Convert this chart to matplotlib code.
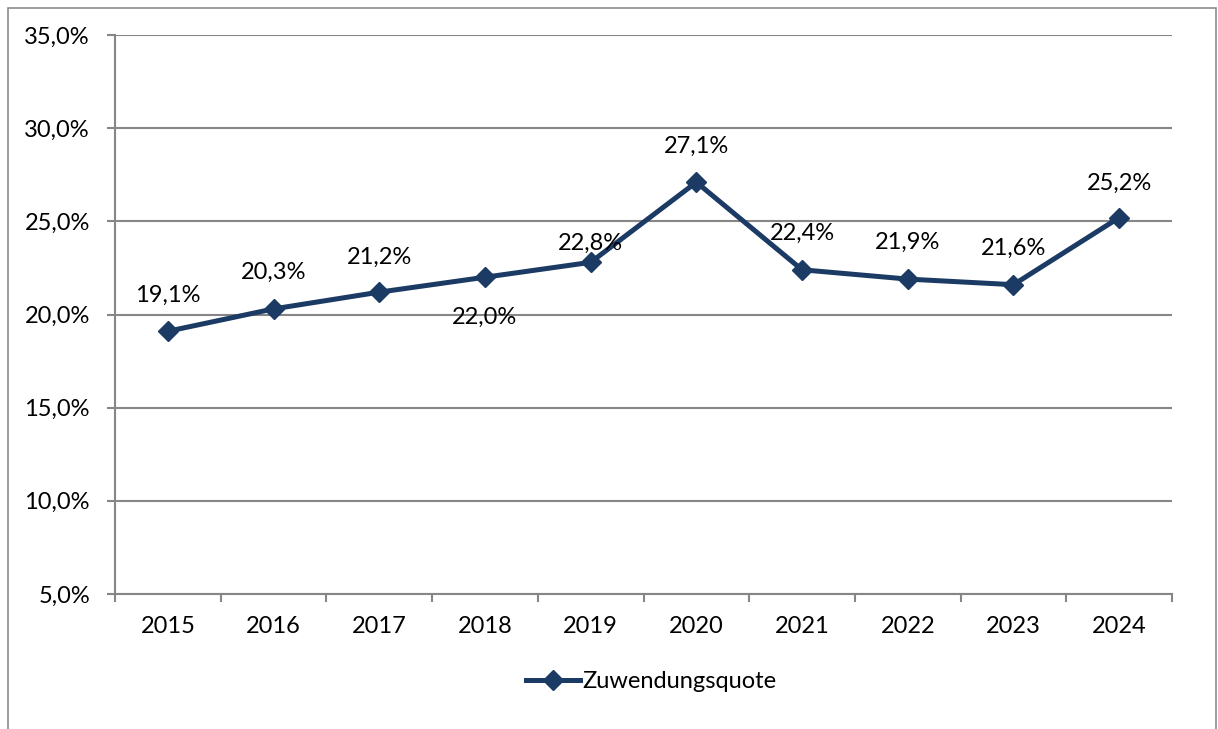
import matplotlib
matplotlib.use("Agg")
import matplotlib.pyplot as plt
from matplotlib.patches import Rectangle
from matplotlib.lines import Line2D

years = ["2015", "2016", "2017", "2018", "2019", "2020", "2021", "2022", "2023", "2024"]
quote = [19.1, 20.3, 21.2, 22.0, 22.8, 27.1, 22.4, 21.9, 21.6, 25.2]
series_name = "Zuwendungsquote"
yticks = [5, 10, 15, 20, 25, 30, 35]
# label offsets in pixels (vertical, relative to point)
label_dy = [36, 37, 35, -40, 19, 36, 36, 37, 36, 34]

W, H = 1218, 729
plt.rcParams['font.family'] = ['Lato', 'DejaVu Sans']
fig = plt.figure(figsize=(W / 100, H / 100), dpi=100)

# outer frame
fig.patches.append(Rectangle((8 / W, -0.05), (1216 - 8) / W, 1.05 - 8 / H,
                             transform=fig.transFigure, fill=False,
                             edgecolor="#8c8c8c", linewidth=1.2))

ax = fig.add_axes([115 / W, 1 - 594 / H, (1172 - 115) / W, (594 - 35) / H])
grey = "#868686"
navy = "#1b3a64"
fs = 17

x = list(range(len(years)))
ax.plot(x, quote, color=navy, linewidth=3.6, marker="D", markersize=10,
        markerfacecolor=navy, markeredgecolor=navy, zorder=3)

for xi, v, dy in zip(x, quote, label_dy):
    ax.annotate(f"{v:.1f}%".replace(".", ","), (xi, v), xytext=(0, dy * 0.72),
                textcoords="offset points", ha="center", va="center",
                fontsize=fs, color="black")

ax.set_xlim(-0.5, len(years) - 0.5)
ax.set_ylim(5, 35)
ax.set_yticks(yticks)
ax.set_yticklabels([f"{t:.1f}%".replace(".", ",") for t in yticks])
ax.set_xticks(x)
ax.set_xticklabels(years)
ax.set_xticks([i - 0.5 for i in range(len(years) + 1)], minor=True)

ax.tick_params(axis="x", which="major", length=0, pad=16, labelsize=fs)
ax.tick_params(axis="x", which="minor", length=6, width=1.5, color=grey, direction="out")
ax.tick_params(axis="y", which="major", length=6, width=1.5, color=grey, pad=12, labelsize=fs)

ax.grid(axis="y", color=grey, linewidth=1.5)
ax.set_axisbelow(True)
for s in ["top", "right"]:
    ax.spines[s].set_visible(False)
for s in ["left", "bottom"]:
    ax.spines[s].set_color(grey)
    ax.spines[s].set_linewidth(1.5)

handle = Line2D([], [], color=navy, linewidth=3.6, marker="D", markersize=10,
                markerfacecolor=navy, markeredgecolor=navy)
fig.legend([handle], [series_name], loc="center", bbox_to_anchor=(651 / W, 1 - 682 / H),
           frameon=False, fontsize=fs, handlelength=2.3, handletextpad=0.1)

fig.savefig("out.png", dpi=100)
